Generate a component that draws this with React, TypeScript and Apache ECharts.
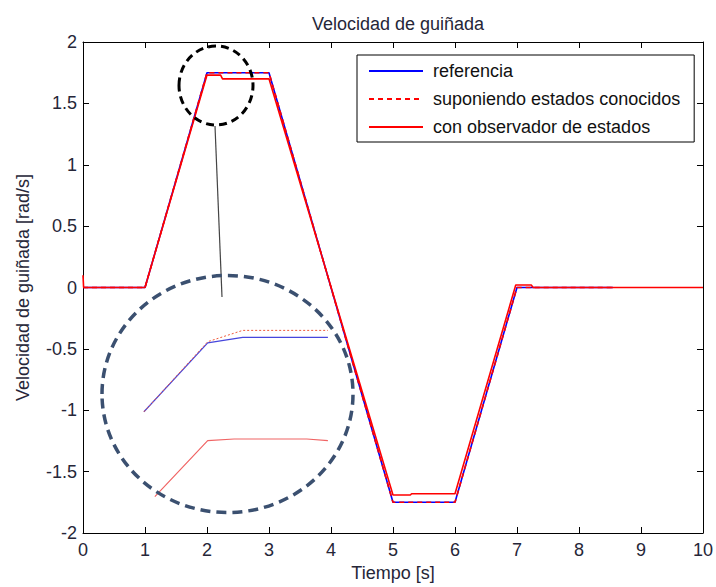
import React, { useEffect, useRef } from "react";
import * as echarts from "echarts";

// Main chart data
const refTime = [0, 1, 2, 3, 5, 6, 7, 8.55];
const refValue = [0, 0, 1.75, 1.75, -1.75, -1.75, 0, 0];
const knownTime = [0, 1, 2, 3, 5, 6, 7, 8.55];
const knownValue = [0, 0, 1.75, 1.75, -1.75, -1.75, 0, 0];
const obsTime = [0, 0.01, 1, 2, 2.22, 2.25, 3, 5, 5.28, 5.3, 6, 6.98, 7.23, 7.26, 10];
const obsValue = [0.1, 0, 0, 1.73, 1.73, 1.7, 1.7, -1.69, -1.69, -1.68, -1.68, 0.02, 0.02, 0, 0];

// Magnified inset data (around t = 2 s)
const insetRefTime = [1.9807, 2.0, 2.0106, 2.0364];
const insetRefValue = [1.7146, 1.748, 1.7507, 1.7507];
const insetKnownTime = [1.9807, 2.0, 2.0106, 2.0364];
const insetKnownValue = [1.7146, 1.7486, 1.7541, 1.7541];
const insetObsTime = [1.984, 2.0, 2.008, 2.03, 2.0364];
const insetObsValue = [1.6734, 1.7006, 1.7014, 1.7014, 1.7006];

const xTicks = [0, 10, 1];
const yTicks = [-2, 2, 0.5];

const names = ["referencia", "suponiendo estados conocidos", "con observador de estados"];

const FONT = "Liberation Sans";
const TXT = "#262638";

const pairs = (t: number[], v: number[]) => t.map((x, i) => [x, v[i]]);

export default function App() {
  const ref = useRef<HTMLDivElement>(null);
  useEffect(() => {
    const chart = echarts.init(ref.current!, null, { renderer: "svg" });
    const axisCommon = {
      axisLine: { show: true, onZero: false, lineStyle: { color: "#000", width: 1 } },
      axisTick: { show: true, inside: true, length: 6, lineStyle: { color: "#000" } },
      splitLine: { show: false },
    };
    chart.setOption({
      animation: false,
      backgroundColor: "#fff",
      title: {
        text: "Velocidad de guiñada",
        left: 393,
        textAlign: "center",
        top: 10,
        textStyle: { fontFamily: FONT, fontSize: 18, fontWeight: "normal", color: TXT },
      },
      legend: {
        orient: "vertical",
        left: 357,
        top: 55,
        data: names,
        padding: [7, 14, 6, 11],
        itemGap: 10,
        itemWidth: 54,
        itemHeight: 18,
        backgroundColor: "#fff",
        borderColor: "#000",
        borderWidth: 1,
        borderRadius: 0,
        itemStyle: { opacity: 0 },
        textStyle: { fontFamily: FONT, fontSize: 18, color: "#111", padding: [0, 0, 0, 5] },
        selectedMode: false,
      },
      grid: [
        { left: 83, top: 42, width: 620, height: 491 },
        { left: 102, top: 277, width: 251, height: 237 },
      ],
      xAxis: [
        {
          ...axisCommon,
          type: "value",
          gridIndex: 0,
          position: "bottom",
          min: xTicks[0],
          max: xTicks[1],
          interval: xTicks[2],
          name: "Tiempo [s]",
          nameLocation: "middle",
          nameGap: 31,
          nameTextStyle: { fontFamily: FONT, fontSize: 18, color: TXT },
          axisLabel: { fontFamily: FONT, fontSize: 18, color: TXT, margin: 8 },
        },
        {
          ...axisCommon,
          type: "value",
          gridIndex: 0,
          position: "top",
          min: xTicks[0],
          max: xTicks[1],
          interval: xTicks[2],
          axisLabel: { show: false },
        },
        { type: "value", gridIndex: 1, min: 1.968, max: 2.044, show: false },
      ],
      yAxis: [
        {
          ...axisCommon,
          type: "value",
          gridIndex: 0,
          position: "left",
          min: yTicks[0],
          max: yTicks[1],
          interval: yTicks[2],
          name: "Velocidad de guiñada [rad/s]",
          nameLocation: "middle",
          nameGap: 51,
          nameTextStyle: { fontFamily: FONT, fontSize: 18, color: TXT },
          axisLabel: { fontFamily: FONT, fontSize: 18, color: TXT, margin: 6 },
        },
        {
          ...axisCommon,
          type: "value",
          gridIndex: 0,
          position: "right",
          min: yTicks[0],
          max: yTicks[1],
          interval: yTicks[2],
          axisLabel: { show: false },
        },
        { type: "value", gridIndex: 1, min: 1.665, max: 1.78, show: false },
      ],
      series: [
        {
          name: names[0],
          type: "line",
          xAxisIndex: 0,
          yAxisIndex: 0,
          data: pairs(refTime, refValue),
          symbol: "none",
          z: 2,
          lineStyle: { color: "#0000ff", width: 1.6 },
          itemStyle: { color: "#0000ff" },
        },
        {
          name: names[1],
          type: "line",
          xAxisIndex: 0,
          yAxisIndex: 0,
          data: pairs(knownTime, knownValue),
          symbol: "none",
          z: 4,
          lineStyle: { color: "#ff0000", width: 1.6, type: [5, 4] },
          itemStyle: { color: "#ff0000" },
        },
        {
          name: names[2],
          type: "line",
          xAxisIndex: 0,
          yAxisIndex: 0,
          data: pairs(obsTime, obsValue),
          symbol: "none",
          z: 3,
          lineStyle: { color: "#ff0000", width: 1.6 },
          itemStyle: { color: "#ff0000" },
        },
        {
          name: "inset-ref",
          type: "line",
          xAxisIndex: 2,
          yAxisIndex: 2,
          data: pairs(insetRefTime, insetRefValue),
          symbol: "none",
          z: 2,
          lineStyle: { color: "#4646dc", width: 1.2 },
        },
        {
          name: "inset-known",
          type: "line",
          xAxisIndex: 2,
          yAxisIndex: 2,
          data: pairs(insetKnownTime, insetKnownValue),
          symbol: "none",
          z: 3,
          lineStyle: { color: "#f05a3a", width: 1, type: [2, 2] },
        },
        {
          name: "inset-obs",
          type: "line",
          xAxisIndex: 2,
          yAxisIndex: 2,
          data: pairs(insetObsTime, insetObsValue),
          symbol: "none",
          z: 3,
          lineStyle: { color: "#f06464", width: 1.2 },
        },
      ],
      graphic: [
        {
          type: "ellipse",
          shape: { cx: 216, cy: 85.5, rx: 37, ry: 39.5 },
          style: { fill: "none", stroke: "#000", lineWidth: 3, lineDash: [8, 5] },
          z: 10,
        },
        {
          type: "line",
          shape: { x1: 215, y1: 126, x2: 222, y2: 297 },
          style: { stroke: "#444", lineWidth: 1.2 },
          z: 10,
        },
        {
          type: "ellipse",
          shape: { cx: 227.5, cy: 394, rx: 125.5, ry: 118.5 },
          style: { fill: "none", stroke: "#3b5070", lineWidth: 3.5, lineDash: [10, 6] },
          z: 10,
        },
      ],
    });
    return () => chart.dispose();
  }, []);
  return (
    <div
      ref={ref}
      style={{ position: "fixed", left: 0, top: 0, width: 716, height: 587 }}
    />
  );
}
